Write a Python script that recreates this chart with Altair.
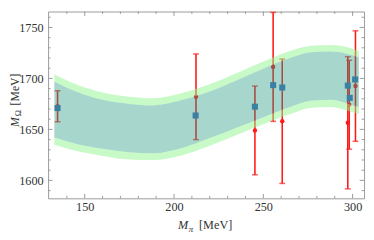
import altair as alt
import pandas as pd

# lattice points (red, with error bars)
mpi = [134.8, 212.3, 245.3, 255.5, 260.6, 297.3, 298.1, 301.6]
m_omega = [1672.7, 1682.0, 1649.0, 1711.3, 1658.0, 1656.5, 1674.2, 1692.5]
m_err = [15.2, 42.0, 43.5, 53.4, 61.0, 64.8, 43.6, 54.2]

# fitted values (blue squares)
fit_x = [134.8, 212.1, 245.3, 255.5, 260.6, 297.3, 298.4, 301.4]
fit_y = [1670.9, 1663.6, 1672.3, 1693.4, 1691.1, 1693.0, 1680.9, 1699.0]

# uncertainty bands
band_x = [133, 145, 160, 175, 188, 205, 220, 235, 250, 265, 277, 288, 296, 303.5]
outer_hi = [1704, 1694.3, 1686.3, 1682, 1680.5, 1686, 1694.3, 1705, 1716.5, 1727, 1732, 1732.7, 1731, 1727]
inner_hi = [1696.8, 1687.2, 1679, 1675, 1673.5, 1679, 1687.2, 1698, 1709.5, 1720, 1725.6, 1726.3, 1724.5, 1720.5]
inner_lo = [1642, 1636, 1631, 1627.5, 1626.5, 1632, 1641.5, 1651.5, 1662, 1672, 1678.3, 1679, 1676, 1672]
outer_lo = [1635, 1629, 1624, 1620.5, 1620, 1625, 1634, 1644.5, 1655, 1665, 1671.3, 1671.9, 1669, 1665]

x_major = [150, 200, 250, 300]
x_minor = [140, 160, 170, 180, 190, 210, 220, 230, 240, 260, 270, 280, 290]
y_major = [1600, 1650, 1700, 1750]
y_minor = [1590, 1610, 1620, 1630, 1640, 1660, 1670, 1680, 1690, 1710, 1720, 1730, 1740, 1760]

W, H = 323, 191
xs = alt.Scale(domain=[129.5, 306.4], nice=False, zero=False)
ys = alt.Scale(domain=[1582.4, 1765.6], nice=False, zero=False)
FRAME = "#9a9a9a"
TXT = "#333333"
SERIF = "Liberation Serif"

AXX = alt.Axis(values=x_major, labelPadding=2, title=None, format="d")
AXY = alt.Axis(values=y_major, labelPadding=5, title=None, format="d")

pts = pd.DataFrame({"x": mpi, "y": m_omega, "lo": [a - e for a, e in zip(m_omega, m_err)],
                    "hi": [a + e for a, e in zip(m_omega, m_err)]})
fit = pd.DataFrame({"x": fit_x, "y": fit_y})
band = pd.DataFrame({"x": band_x, "oh": outer_hi, "ih": inner_hi, "il": inner_lo, "ol": outer_lo})

X = lambda f: alt.X(f, scale=xs, axis=AXX)
Y = lambda f: alt.Y(f, scale=ys, axis=AXY)

bars = alt.Chart(pts).mark_rule(color="#ff1a1a", strokeWidth=1.6).encode(
    x=X("x:Q"), y=Y("lo:Q"), y2="hi:Q")
cap_lo = alt.Chart(pts).mark_tick(orient="horizontal", size=6, thickness=1.5, color="#ff1a1a").encode(
    x=X("x:Q"), y=Y("lo:Q"))
cap_hi = alt.Chart(pts).mark_tick(orient="horizontal", size=6, thickness=1.5, color="#ff1a1a").encode(
    x=X("x:Q"), y=Y("hi:Q"))
dots = alt.Chart(pts).mark_circle(size=20, color="#ff1a1a", opacity=1).encode(x=X("x:Q"), y=Y("y:Q"))

green_top = alt.Chart(band).mark_area(color="#91f591", opacity=0.5, interpolate="monotone").encode(
    x=X("x:Q"), y=Y("ih:Q"), y2="oh:Q")
green_bot = alt.Chart(band).mark_area(color="#91f591", opacity=0.5, interpolate="monotone").encode(
    x=X("x:Q"), y=Y("ol:Q"), y2="il:Q")
teal = alt.Chart(band).mark_area(color="#20987f", opacity=0.4, interpolate="monotone").encode(
    x=X("x:Q"), y=Y("il:Q"), y2="ih:Q")

squares = alt.Chart(fit).mark_square(size=38, color="#3b7fa3", opacity=1).encode(x=X("x:Q"), y=Y("y:Q"))

def xticks(vals, ln):
    d = pd.DataFrame({"v": vals})
    b = alt.Chart(d).mark_rule(color=FRAME, strokeWidth=1).encode(
        x=X("v:Q"), y=alt.value(H), y2=alt.value(H - ln))
    t = alt.Chart(d).mark_rule(color=FRAME, strokeWidth=1).encode(
        x=X("v:Q"), y=alt.value(0), y2=alt.value(ln))
    return [b, t]

def yticks(vals, ln):
    d = pd.DataFrame({"v": vals})
    l = alt.Chart(d).mark_rule(color=FRAME, strokeWidth=1).encode(
        y=Y("v:Q"), x=alt.value(0), x2=alt.value(ln))
    r = alt.Chart(d).mark_rule(color=FRAME, strokeWidth=1).encode(
        y=Y("v:Q"), x=alt.value(W), x2=alt.value(W - ln))
    return [l, r]

one = pd.DataFrame({"a": [0]})

def txt(s, x, y, size=12, style="normal", angle=0):
    return alt.Chart(one).mark_text(text=s, font=SERIF, fontSize=size, fontStyle=style, color=TXT,
                                    align="left", baseline="alphabetic", angle=angle).encode(
        x=alt.value(x), y=alt.value(y))

titles = [
    txt("M", 132.7, 222, 12.5, "italic"),
    txt("π", 143.7, 225, 9, "italic"),
    txt("[MeV]", 154.3, 222, 12.5),
    txt("M", -30, 118, 12, "italic", 270),
    txt("Ω", -27.5, 107, 8.5, "normal", 270),
    txt("[MeV]", -30, 96, 12, "normal", 270),
]

layers = [bars, cap_lo, cap_hi, dots, green_top, green_bot, teal, squares]
layers += xticks(x_major, 4.5) + xticks(x_minor, 2.5) + yticks(y_major, 4.5) + yticks(y_minor, 2.5)
layers += titles

chart = alt.layer(*layers).properties(
    width=W, height=H, autosize="none",
    padding={"left": 41, "top": 1, "right": 2, "bottom": 40},
).configure_view(stroke=FRAME, strokeWidth=1).configure_axis(
    labelFont=SERIF, labelFontSize=12.5, labelColor=TXT, ticks=False, domain=False, grid=False)

chart.save("out.html", embed_options={"renderer": "svg", "actions": False})
